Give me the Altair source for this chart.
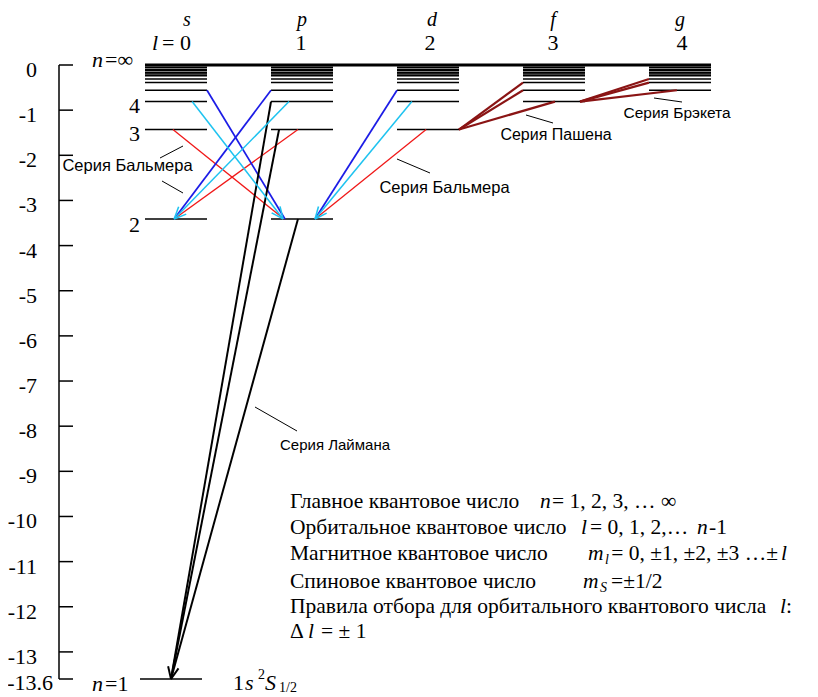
import math
import altair as alt
import pandas as pd

# ---------------- data ----------------
orbital_letters = ["s", "p", "d", "f", "g"]
orbital_numbers = ["0", "1", "2", "3", "4"]

level_n = [2, 3, 4, 5, 6, 7, 8, 9, 10, 11, 12, 13]
level_E = [-3.41, -1.43, -0.81, -0.56, -0.39, -0.31, -0.24, -0.20, -0.17, -0.13, -0.095, -0.05]
ground_E = -13.6
limit_E = 0.0

energy_ticks = [0, -1, -2, -3, -4, -5, -6, -7, -8, -9, -10, -11, -12, -13, -13.6]
energy_tick_labels = ["0", "-1", "-2", "-3", "-4", "-5", "-6", "-7", "-8", "-9", "-10", "-11", "-12", "-13", "-13.6"]

# transitions (upper level -> lower level); pos = place along the level line (-1 left end, +1 right end)
tr_key = ["red", "red", "red", "cyan", "cyan", "cyan", "blue", "blue", "blue",
          "black", "black", "black", "dark", "dark", "dark", "dark", "dark", "dark"]
tr_from_l = [0, 1, 2, 0, 1, 2, 0, 1, 2, 1, 1, 1, 3, 3, 3, 4, 4, 4]
tr_from_n = [3, 3, 3, 4, 4, 4, 5, 5, 5, 4, 3, 2, 6, 5, 4, 7, 6, 5]
tr_from_pos = [-0.10, -0.13, -0.06, 0.52, -0.42, -0.52, 1.0, -1.0, -1.0,
               -1.0, -0.74, -0.13, -1.0, -1.0, 0.03, -1.0, -1.0, -0.10]
tr_to_l = [1, 0, 1, 1, 0, 1, 1, 0, 1, 0, 0, 0, 2, 2, 2, 3, 3, 3]
tr_to_n = [2, 2, 2, 2, 2, 2, 2, 2, 2, 1, 1, 1, 3, 3, 3, 4, 4, 4]
tr_to_pos = [-0.58, -0.06, 0.42, -0.61, -0.06, 0.42, -0.55, -0.06, 0.42,
             0.0, 0.0, 0.0, 1.0, 1.0, 1.0, 0.84, 0.84, 0.84]
tr_arrow = [False, False, False, True, True, True, False, False, False,
            False, True, False, False, False, False, False, False, False]

series_labels = ["Серия Бальмера", "Серия Бальмера", "Серия Лаймана", "Серия Пашена", "Серия Брэкета"]

# ---------------- layout ----------------
SERIF = "Liberation Serif"
SANS = "Liberation Sans"
W, H = 751, 614
KX = 126.0                 # px per column unit
KY = H / 13.6              # px per eV
COL0_PX = 176              # page x of column l=0 centre
PLOT_LEFT, PLOT_TOP = 59, 65
HW = 31 / KX               # half width of a level line
GROUND_SHIFT = -5 / KX
X_DOM = [(PLOT_LEFT - COL0_PX) / KX, (PLOT_LEFT - COL0_PX) / KX + W / KX]

COLORS = {"red": "#f01818", "cyan": "#1ec3f0", "blue": "#1c1ce6", "black": "#000000", "dark": "#8a1414"}
WIDTHS = {"red": 1.3, "cyan": 2.2, "blue": 1.3, "black": 1.5, "dark": 1.6}


def fx(px):
    return (px - COL0_PX) / KX


def fy(py):
    return -(py - PLOT_TOP) / KY


xscale = alt.Scale(domain=X_DOM, nice=False, zero=False)
yscale = alt.Scale(domain=[-13.6, 0], nice=False, zero=False)


def X(f):
    return alt.X(f"{f}:Q", scale=xscale, axis=None)


def Y(f):
    return alt.Y(f"{f}:Q", scale=yscale, axis=None)


E_of = dict(zip(level_n, level_E))
E_of[1] = ground_E

# levels
lev_rows = []
for l in range(len(orbital_letters)):
    for n, e in zip(level_n, level_E):
        if n > l:
            lev_rows.append({"x": l - HW, "x2": l + HW, "E": e, "w": 1.5})
lev_rows.append({"x": -HW, "x2": 4 + HW, "E": limit_E, "w": 3.2})
lev_rows.append({"x": -HW + GROUND_SHIFT, "x2": HW + GROUND_SHIFT, "E": ground_E, "w": 1.5})
lev_df = pd.DataFrame(lev_rows)

levels = alt.Chart(lev_df).mark_rule(color="black").encode(
    x=X("x"), x2="x2:Q", y=Y("E"),
    strokeWidth=alt.StrokeWidth("w:Q", scale=None),
)

# energy axis drawn from the tick list through the y scale
tick_df = pd.DataFrame({"E": energy_ticks, "lab": energy_tick_labels})
axis_line = alt.Chart(pd.DataFrame({"a": [0.0], "b": [-13.6]})).mark_rule(
    color="black", strokeWidth=1.5
).encode(x=alt.value(0), y=Y("a"), y2="b:Q")
axis_ticks = alt.Chart(tick_df).mark_rule(color="black", strokeWidth=1.5).encode(
    x=alt.value(0), x2=alt.value(14), y=Y("E"))
axis_labels = alt.Chart(tick_df[tick_df["E"] > -13.5]).mark_text(
    font=SERIF, fontSize=22, align="right", baseline="alphabetic", dy=12, color="black"
).encode(x=alt.value(-22), y=Y("E"), text="lab:N")
axis_last = alt.Chart(tick_df[tick_df["E"] < -13.5]).mark_text(
    font=SERIF, fontSize=22, align="right", baseline="alphabetic", dy=11, color="black"
).encode(x=alt.value(-6), y=Y("E"), text="lab:N")

# transitions
tr_rows, arm_rows = [], []
order = {"red": 0, "blue": 1, "black": 2, "dark": 3, "cyan": 4}
for k, fl, fn, fp, tl, tn, tp, ar in zip(tr_key, tr_from_l, tr_from_n, tr_from_pos,
                                          tr_to_l, tr_to_n, tr_to_pos, tr_arrow):
    x1 = fl + fp * HW + (GROUND_SHIFT if fn == 1 else 0)
    x2 = tl + tp * HW + (GROUND_SHIFT if tn == 1 else 0)
    e1, e2 = E_of[fn], E_of[tn]
    tr_rows.append({"x": x1, "E": e1, "x2": x2, "E2": e2, "k": k, "o": order[k]})
    if ar:
        dxp, dyp = (x2 - x1) * KX, -(e2 - e1) * KY
        d = math.hypot(dxp, dyp)
        ux, uy = dxp / d, dyp / d
        L = 13
        for s in (1, -1):
            a = math.radians(24) * s
            bx = -ux * math.cos(a) + uy * math.sin(a)
            by = -ux * math.sin(a) - uy * math.cos(a)
            arm_rows.append({"x": x2, "E": e2, "x2": x2 + bx * L / KX, "E2": e2 - by * L / KY,
                             "k": k, "o": order[k] + 10})
tr_df = pd.DataFrame(tr_rows + arm_rows).sort_values("o")

color_scale = alt.Scale(domain=list(COLORS.keys()), range=list(COLORS.values()))
width_scale = alt.Scale(domain=list(WIDTHS.keys()), range=list(WIDTHS.values()))

transitions = alt.Chart(tr_df).mark_rule().encode(
    x=X("x"), x2="x2:Q", y=Y("E"), y2="E2:Q",
    color=alt.Color("k:N", scale=color_scale, legend=None),
    strokeWidth=alt.StrokeWidth("k:N", scale=width_scale, legend=None),
    order="o:Q",
)

# leader lines for series labels (page px)
leaders_px = [(160, 158, 183, 146), (162, 181, 183, 193), (397, 159, 430, 173),
              (255, 407, 297, 431), (526, 115, 553, 123), (654, 98, 682, 102)]
lead_df = pd.DataFrame([{"x": fx(a), "E": fy(b), "x2": fx(c), "E2": fy(d)} for a, b, c, d in leaders_px])
leaders = alt.Chart(lead_df).mark_rule(color="black", strokeWidth=1).encode(
    x=X("x"), x2="x2:Q", y=Y("E"), y2="E2:Q")


def text_layer(rows, size, italic=False, align="left", baseline="alphabetic", font=SERIF):
    df = pd.DataFrame([{"t": r[0], "x": fx(r[1]), "E": fy(r[2])} for r in rows])
    kw = dict(font=font, fontSize=size, align=align, baseline=baseline, color="black")
    if italic:
        kw["fontStyle"] = "italic"
    return alt.Chart(df).mark_text(**kw).encode(x=X("x"), y=Y("E"), text="t:N")


letter_x = [187, 302, 432, 553, 680]
number_x = [None, 301, 430, 553, 682]
NOTE = 21.5

texts = [
    text_layer([(c, x, 26) for c, x in zip(orbital_letters, letter_x)], 20, italic=True, align="center"),
    text_layer([(c, x, 50) for c, x in zip(orbital_numbers[1:], number_x[1:])], 22, align="center"),
    text_layer([("l", 155, 50)], 22, italic=True, align="center"),
    text_layer([("= " + orbital_numbers[0], 162, 50)], 22),
    # level labels
    text_layer([("n", 103, 67), ("n", 103, 691)], 22, italic=True, align="right"),
    text_layer([("=∞", 105, 67), ("=1", 105, 691)], 22),
    text_layer([("4", 140, 113), ("3", 140, 141), ("2", 140, 232)], 22, align="right"),
    text_layer([("1", 233, 690)], 22),
    text_layer([("s", 245, 690), ("S", 265, 690)], 22, italic=True),
    text_layer([("2", 258, 679), ("1/2", 279, 692)], 14),
    # series labels
    text_layer([(series_labels[0], 127.5, 166), (series_labels[1], 444.5, 188)], 16.5,
               align="center", baseline="middle", font=SANS),
    text_layer([(series_labels[2], 335, 445)], 15, align="center", baseline="middle", font=SANS),
    text_layer([(series_labels[3], 556, 135)], 16, align="center", baseline="middle", font=SANS),
    text_layer([(series_labels[4], 677, 113)], 15.5, align="center", baseline="middle", font=SANS),
    # quantum-number notes
    text_layer([
        ("Главное квантовое число", 290, 508), ("= 1, 2, 3, … ∞", 552, 508),
        ("Орбитальное квантовое число", 290, 534), ("= 0, 1, 2,…", 590, 534), ("-1", 709, 534),
        ("Магнитное квантовое число", 290, 560),
        ("Спиновое квантовое число", 290, 588), ("=±1/2", 611, 588),
        ("Правила отбора для орбитального квантового числа", 290, 613), (":", 786, 613),
        ("Δ", 290, 638), ("= ± 1", 321, 638),
    ], NOTE),
    text_layer([("= 0, ±1, ±2, ±3 …±", 778, 560)], NOTE, align="right"),
    text_layer([("n", 540, 508), ("l", 581, 534), ("n", 697, 534), ("m", 588, 560), ("l", 781, 560),
                ("m", 583, 588), ("l", 780, 613), ("l", 308, 638)], NOTE, italic=True),
    text_layer([("l", 605, 564), ("S", 600, 592)], 14, italic=True),
]

chart = alt.layer(levels, axis_line, axis_ticks, axis_labels, axis_last, transitions, leaders, *texts).properties(
    width=W, height=H,
    padding={"left": 51, "top": 57, "right": 0, "bottom": 18},
    autosize=alt.AutoSizeParams(type="none"),
    background="white",
).configure_view(stroke=None)

chart.save("out.html", embed_options={"renderer": "svg", "actions": False})
